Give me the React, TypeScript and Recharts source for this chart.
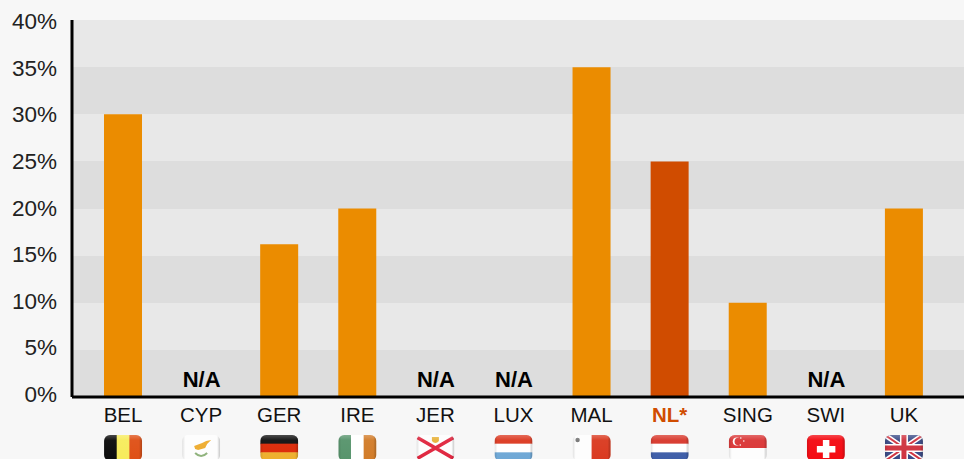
import React from 'react';
import { ComposedChart, Bar, Line, XAxis, YAxis, CartesianGrid, Cell, LabelList } from 'recharts';

const categories = ['BEL', 'CYP', 'GER', 'IRE', 'JER', 'LUX', 'MAL', 'NL*', 'SING', 'SWI', 'UK'];
const values: (number | null)[] = [30, null, 16.2, 20, null, null, 35, 25, 10, null, 20];
const yTicks = [0, 5, 10, 15, 20, 25, 30, 35, 40];
const highlighted = 'NL*';

const FONT = '"Liberation Sans", Arial, sans-serif';
const data = categories.map((name, i) => ({
  name,
  value: values[i],
  na: values[i] === null ? 0 : null,
}));

const W = 38;
const H = 26;

function stripesH(colors: string[]) {
  const h = H / colors.length;
  return colors.map((c, i) => <rect key={i} x={0} y={i * h} width={W} height={h + 0.5} fill={c} />);
}
function stripesV(colors: string[]) {
  const w = W / colors.length;
  return colors.map((c, i) => <rect key={i} x={i * w} y={0} width={w + 0.5} height={H} fill={c} />);
}

function flagArt(name: string) {
  switch (name) {
    case 'BEL':
      return stripesV(['#0c0c0c', '#f7ec5c', '#df5016']);
    case 'CYP':
      return (
        <g>
          <rect width={W} height={H} fill="#fdfdfd" />
          <path d="M12 11 L20 8 L24 6 L29 5 L25 9 L23 13 L16 15 L13 14 Z" fill="#eeac2f" />
          <path d="M13 18 Q16 21 19 21 M25 18 Q22 21 19 21" stroke="#8fb27c" strokeWidth={2} fill="none" />
        </g>
      );
    case 'GER':
      return stripesH(['#111111', '#dc2a08', '#eeb02e']);
    case 'IRE':
      return stripesV(['#57946c', '#ffffff', '#d27c29']);
    case 'JER':
      return (
        <g>
          <rect width={W} height={H} fill="#fdfdfd" />
          <path d="M0 2 L38 24 M38 2 L0 24" stroke="#e0263f" strokeWidth={3.5} />
          <path d="M15.5 2 H22.5 V6 Q19 10 15.5 6 Z" fill="#e8b23a" />
        </g>
      );
    case 'LUX':
      return stripesH(['#dc3a22', '#ffffff', '#6fa8d6']);
    case 'MAL':
      return (
        <g>
          {stripesV(['#fdfdfd', '#da3a20'])}
          <circle cx={5} cy={5} r={2.2} fill="#777777" />
        </g>
      );
    case 'NL*':
      return stripesH(['#d8382c', '#ffffff', '#3f5ea8']);
    case 'SING':
      return (
        <g>
          <rect width={W} height={H} fill="#fdfdfd" />
          <rect width={W} height={13} fill="#da3636" />
          <circle cx={8} cy={6.5} r={4} fill="#fdfdfd" />
          <circle cx={9.6} cy={6.5} r={3.8} fill="#da3636" />
          <circle cx={12} cy={3} r={0.8} fill="#fdfdfd" />
          <circle cx={15} cy={6} r={0.8} fill="#fdfdfd" />
          <circle cx={11.5} cy={10} r={0.8} fill="#fdfdfd" />
        </g>
      );
    case 'SWI':
      return (
        <g>
          <rect width={W} height={H} fill="#f40a12" />
          <rect x={16} y={5} width={6.5} height={18} fill="#ffffff" />
          <rect x={10} y={11} width={18.5} height={6.5} fill="#ffffff" />
        </g>
      );
    case 'UK':
    default:
      return (
        <g>
          <rect width={W} height={H} fill="#3a4a86" />
          <path d="M0 0 L38 26 M38 0 L0 26" stroke="#ffffff" strokeWidth={5} />
          <path d="M0 0 L38 26 M38 0 L0 26" stroke="#cf3340" strokeWidth={2} />
          <rect x={15} y={0} width={8} height={H} fill="#ffffff" />
          <rect x={0} y={9} width={W} height={8} fill="#ffffff" />
          <rect x={16.5} y={0} width={5} height={H} fill="#cf3340" />
          <rect x={0} y={10.5} width={W} height={5} fill="#cf3340" />
        </g>
      );
  }
}

function Flag({ name, x, y }: { name: string; x: number; y: number }) {
  const id = `clip-${categories.indexOf(name)}`;
  return (
    <g transform={`translate(${x - W / 2},${y})`}>
      <clipPath id={id}>
        <rect width={W} height={H} rx={6} ry={6} />
      </clipPath>
      <g clipPath={`url(#${id})`}>
        {flagArt(name)}
        <rect width={W} height={H} fill="url(#flagSheen)" />
        <rect width={W} height={H} fill="url(#flagEdge)" />
      </g>
    </g>
  );
}

function CategoryTick(props: any) {
  const { x, payload } = props;
  const isHi = payload.value === highlighted;
  return (
    <g>
      <text
        x={x}
        y={421.5}
        textAnchor="middle"
        fontFamily={FONT}
        fontSize={20.5}
        fontWeight={isHi ? 700 : 400}
        fill={isHi ? '#d04c00' : '#111111'}
      >
        {payload.value}
      </text>
      <Flag name={payload.value} x={x} y={435} />
    </g>
  );
}

function ValueTick(props: any) {
  const { x, y, payload } = props;
  const shift = -3 + (payload.value / 40) * 4;
  return (
    <text
      x={x - 1}
      y={y + shift}
      dy="0.36em"
      textAnchor="end"
      fontFamily={FONT}
      fontSize={22.5}
      fill="#222222"
    >
      {`${payload.value}%`}
    </text>
  );
}

function NaLabel(props: any) {
  const { x, y, value } = props;
  if (value === null || value === undefined) return null;
  return (
    <text x={x + 0.5} y={y - 10.5} textAnchor="middle" fontFamily={FONT} fontSize={22} fontWeight={700} fill="#000000">
      N/A
    </text>
  );
}

export default function App() {
  return (
    <div style={{ position: 'absolute', left: 0, top: 0, width: 964, height: 459, background: '#f7f7f7', overflow: 'hidden' }}>
      <ComposedChart
        width={964}
        height={459}
        data={data}
        margin={{ top: 20, right: 0, bottom: 0, left: 0 }}
        barCategoryGap={20}
      >
        <defs>
          <linearGradient id="flagSheen" x1="0" y1="0" x2="0" y2="1">
            <stop offset="0" stopColor="#ffffff" stopOpacity={0.25} />
            <stop offset="0.2" stopColor="#ffffff" stopOpacity={0.04} />
            <stop offset="1" stopColor="#ffffff" stopOpacity={0} />
          </linearGradient>
          <linearGradient id="flagEdge" x1="0" y1="0" x2="1" y2="0">
            <stop offset="0" stopColor="#000000" stopOpacity={0.12} />
            <stop offset="0.08" stopColor="#000000" stopOpacity={0} />
            <stop offset="0.92" stopColor="#000000" stopOpacity={0} />
            <stop offset="1" stopColor="#000000" stopOpacity={0.22} />
          </linearGradient>
        </defs>
        <CartesianGrid
          vertical={false}
          stroke="none"
          horizontalFill={['#e8e8e8', '#dddddd']}
          syncWithTicks
        />
        <XAxis
          dataKey="name"
          interval={0}
          height={62}
          padding={{ left: 12, right: 21 }}
          axisLine={{ stroke: '#000000', strokeWidth: 3 }}
          tickLine={false}
          tick={<CategoryTick />}
        />
        <YAxis
          width={72}
          domain={[0, 40]}
          ticks={yTicks}
          interval={0}
          tickLine={false}
          tickSize={0}
          tickMargin={14}
          axisLine={{ stroke: '#000000', strokeWidth: 3 }}
          tick={<ValueTick />}
        />
        <Bar dataKey="value" barSize={38} isAnimationActive={false}>
          {data.map((d) => (
            <Cell key={d.name} fill={d.name === highlighted ? '#d04c00' : '#eb8c00'} />
          ))}
        </Bar>
        <Line dataKey="na" stroke="none" dot={false} activeDot={false} legendType="none" isAnimationActive={false}>
          <LabelList dataKey="na" content={<NaLabel />} />
        </Line>
      </ComposedChart>
    </div>
  );
}
